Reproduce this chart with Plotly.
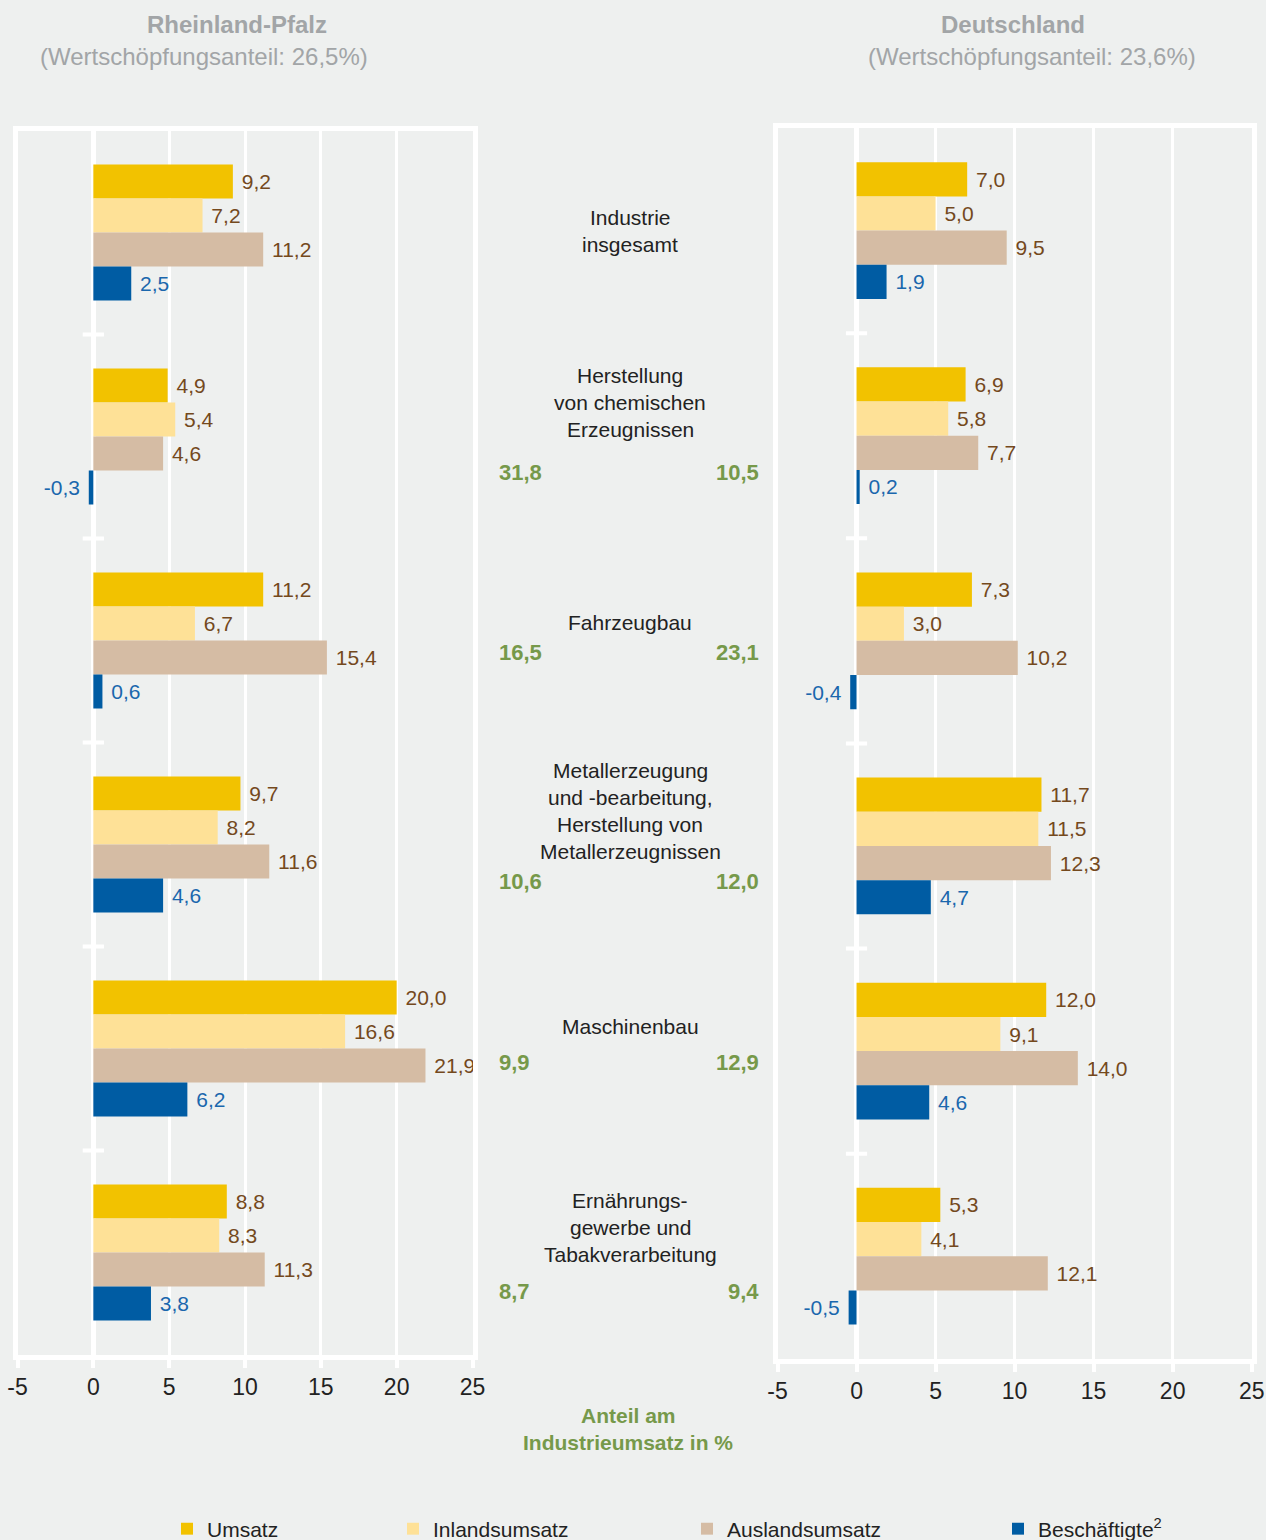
import plotly.graph_objects as go

BG = "#eef0ef"
FONT = "Liberation Sans, Arial, sans-serif"

categories = [["Industrie", "insgesamt"],
              ["Herstellung", "von chemischen", "Erzeugnissen"],
              ["Fahrzeugbau"],
              ["Metallerzeugung", "und -bearbeitung,", "Herstellung von", "Metallerzeugnissen"],
              ["Maschinenbau"],
              ["Ernährungs-", "gewerbe und", "Tabakverarbeitung"]]
cat_keys = ["ind", "chem", "fzg", "met", "masch", "ern"]

series = ["Umsatz", "Inlandsumsatz", "Auslandsumsatz", "Beschäftigte<sup>2</sup>"]
colors = ["#f2c200", "#fee197", "#d5bca4", "#005ca3"]
text_colors = ["#74491d", "#74491d", "#74491d", "#1a67ad"]

rlp_umsatz = [9.2, 4.9, 11.2, 9.7, 20.0, 8.8]
rlp_inland = [7.2, 5.4, 6.7, 8.2, 16.6, 8.3]
rlp_ausland = [11.2, 4.6, 15.4, 11.6, 21.9, 11.3]
rlp_besch = [2.5, -0.3, 0.6, 4.6, 6.2, 3.8]

de_umsatz = [7.0, 6.9, 7.3, 11.7, 12.0, 5.3]
de_inland = [5.0, 5.8, 3.0, 11.5, 9.1, 4.1]
de_ausland = [9.5, 7.7, 10.2, 12.3, 14.0, 12.1]
de_besch = [1.9, 0.2, -0.4, 4.7, 4.6, -0.5]

rlp_anteil = [None, "31,8", "16,5", "10,6", "9,9", "8,7"]
de_anteil = [None, "10,5", "23,1", "12,0", "12,9", "9,4"]

tick_vals = [-5, 0, 5, 10, 15, 20, 25]
tick_text = ["-5", "0", "5", "10", "15", "20", "25"]

# layout helpers (pixel shifts of the middle labels relative to group centre)
label_shift = [1.5, 34.5, 18.5, 33.5, 22.5, 25.5]
number_shift = [0, -35.5, -11.5, -36.5, -13.5, -38.5]
LINE_H = 27


def fmt(v):
    s = f"{v:.1f}".replace(".", ",")
    return s + "\u00a0" if v < 0 else "\u00a0" + s


fig = go.Figure()

panels = [("x", "y", [rlp_umsatz, rlp_inland, rlp_ausland, rlp_besch], True),
          ("x2", "y2", [de_umsatz, de_inland, de_ausland, de_besch], False)]
legends = ["legend", "legend2", "legend3", "legend4"]

for xa, ya, vals, show in panels:
    for i, name in enumerate(series):
        fig.add_trace(go.Bar(
            x=vals[i], y=cat_keys, orientation="h", name=name,
            marker=dict(color=colors[i], line=dict(width=0)),
            text=[fmt(v) for v in vals[i]], textposition="outside",
            outsidetextfont=dict(color=text_colors[i], size=21, family=FONT),
            cliponaxis=False, constraintext="none",
            xaxis=xa, yaxis=ya, showlegend=show, legend=legends[i],
            hoverinfo="skip"))

xcommon = dict(range=[-5, 25], tickvals=tick_vals, ticktext=tick_text,
               showgrid=True, gridcolor="white", gridwidth=3,
               zeroline=True, zerolinecolor="white", zerolinewidth=5,
               showline=True, linecolor="white", linewidth=5, mirror=True,
               ticks="outside", tickcolor="white", ticklen=8, tickwidth=4,
               tickfont=dict(size=23, color="#222222", family=FONT),
               automargin=False, fixedrange=True)
ycommon = dict(categoryorder="array", categoryarray=cat_keys, autorange="reversed",
               showticklabels=False, ticks="", showgrid=False, zeroline=False,
               showline=True, linecolor="white", linewidth=5, mirror=True,
               automargin=False, fixedrange=True)

fig.update_layout(
    width=1266, height=1540,
    margin=dict(l=0, r=0, t=0, b=0, pad=0, autoexpand=False),
    paper_bgcolor=BG, plot_bgcolor=BG,
    font=dict(family=FONT, color="#222222"),
    barmode="group", bargap=1 / 3, bargroupgap=0,
    xaxis=dict(domain=[17.5 / 1266, 472.5 / 1266], anchor="y", **xcommon),
    yaxis=dict(domain=[1 - 1354.5 / 1540, 1 - 130.5 / 1540], anchor="x", **ycommon),
    xaxis2=dict(domain=[777.5 / 1266, 1251.7 / 1266], anchor="y2", **xcommon),
    yaxis2=dict(domain=[1 - 1358.8 / 1540, 1 - 128 / 1540], anchor="x2", **ycommon),
)

leg_x = [167, 393, 687, 998]
for i, lg in enumerate(legends):
    fig.update_layout({lg: dict(x=leg_x[i] / 1266, y=1 - 1529 / 1540,
                                xanchor="left", yanchor="middle",
                                orientation="h", bgcolor="rgba(0,0,0,0)",
                                font=dict(size=21, color="#222222", family=FONT))})

# category separators on the zero line
for xa, ya, half in [("x", "y", 0.7), ("x2", "y2", 0.67)]:
    for i in range(len(cat_keys) - 1):
        fig.add_shape(type="line", xref=xa, yref=ya, x0=-half, x1=half,
                      y0=i + 0.5, y1=i + 0.5, line=dict(color="white", width=4))

GREEN = "#76994a"
for i, lines in enumerate(categories):
    n = len(lines)
    for j, line in enumerate(lines):
        fig.add_annotation(text=line, xref="paper", yref="y", x=630 / 1266, y=i,
                           xanchor="center", yanchor="middle",
                           yshift=label_shift[i] + ((n - 1) / 2 - j) * LINE_H,
                           showarrow=False,
                           font=dict(size=21, color="#222222", family=FONT))
    if rlp_anteil[i] is not None:
        fig.add_annotation(text=f"<b>{rlp_anteil[i]}</b>", xref="paper", yref="y",
                           x=497 / 1266, y=i, yshift=number_shift[i], xanchor="left",
                           yanchor="middle", showarrow=False,
                           font=dict(size=22, color=GREEN, family=FONT))
        fig.add_annotation(text=f"<b>{de_anteil[i]}</b>", xref="paper", yref="y",
                           x=761 / 1266, y=i, yshift=number_shift[i], xanchor="right",
                           yanchor="middle", showarrow=False,
                           font=dict(size=22, color=GREEN, family=FONT))

for txt, py in [("<b>Anteil am</b>", 1415), ("<b>Industrieumsatz in %</b>", 1442)]:
    fig.add_annotation(text=txt, xref="paper", yref="paper", x=628 / 1266, y=1 - py / 1540,
                       xanchor="center", yanchor="middle", showarrow=False,
                       font=dict(size=21, color=GREEN, family=FONT))

GREY = "#a2a5a7"
titles = [("<b>Rheinland-Pfalz</b>", 237, 24), ("(Wertschöpfungsanteil: 26,5%)", 204, 56),
          ("<b>Deutschland</b>", 1013, 24), ("(Wertschöpfungsanteil: 23,6%)", 1032, 56)]
for txt, px, py in titles:
    fig.add_annotation(text=txt, xref="paper", yref="paper", x=px / 1266, y=1 - py / 1540,
                       xanchor="center", yanchor="middle", showarrow=False,
                       font=dict(size=24, color=GREY, family=FONT))

# the page's default 8px body margin would shift and crop the figure
fig.write_html("out.html", config={"displayModeBar": False},
               post_script="document.body.style.margin = '0';")
